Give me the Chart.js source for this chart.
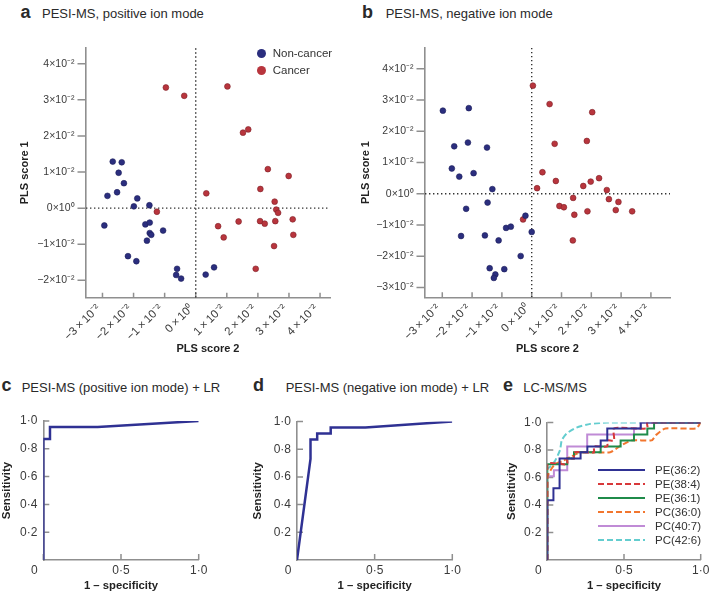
<!DOCTYPE html>
<html>
<head>
<meta charset="utf-8">
<title>PESI-MS PLS scores and ROC curves</title>
<script src="https://cdn.jsdelivr.net/npm/chart.js@4.4.1/dist/chart.umd.min.js"></script>
<style>
  html, body { margin: 0; padding: 0; background: #fff; overflow: hidden; }
  body { position: relative; width: 709px; height: 598px; font-family: "Liberation Sans", Arial, sans-serif; color: #2a2a2a; }
  canvas { position: absolute; }
  .panel { position: absolute; font-weight: bold; font-size: 18px; line-height: 18px; }
  .title { position: absolute; font-size: 13px; line-height: 13px; white-space: nowrap; }
  .key { position: absolute; font-size: 11.5px; line-height: 14px; white-space: nowrap; color: #333; }
  .dot { position: absolute; width: 9px; height: 9px; border-radius: 50%; }
  .swatch { position: absolute; height: 2px; }
</style>
</head>
<body>
<div class="panel" style="left:20.5px;top:3px">a</div>
<div class="title" style="left:42px;top:7.3px">PESI-MS, positive ion mode</div>
<div class="panel" style="left:362px;top:3px">b</div>
<div class="title" style="left:385.7px;top:7.3px">PESI-MS, negative ion mode</div>
<div class="panel" style="left:1.5px;top:376.3px">c</div>
<div class="title" style="left:21.7px;top:380.5px">PESI-MS (positive ion mode) + LR</div>
<div class="panel" style="left:253px;top:376.3px">d</div>
<div class="title" style="left:285.7px;top:380.5px">PESI-MS (negative ion mode) + LR</div>
<div class="panel" style="left:503px;top:376.3px">e</div>
<div class="title" style="left:523.3px;top:380.5px">LC-MS/MS</div>

<canvas id="posScores"></canvas>
<canvas id="negScores"></canvas>
<canvas id="posRoc"></canvas>
<canvas id="negRoc"></canvas>
<canvas id="lcRoc"></canvas>
<div id="scoreKey"></div>
<div id="lcKey"></div>

<script>
// --- DATA (PLS scores in units of 10^-2) ---
const groupNames = ['Non-cancer', 'Cancer'];

const posNonX = [-2.67, -2.38, -2.48, -2.31, -2.84, -2.53, -1.88, -1.99, -1.49, -2.94, -1.62, -1.48, -1.48, -1.43, -1.05, -1.57, -2.18, -1.91, -0.60, -0.63, -0.47, 0.32, 0.59];
const posNonY = [1.29, 1.27, 0.98, 0.69, 0.34, 0.44, 0.27, 0.05, 0.08, -0.48, -0.45, -0.40, -0.69, -0.74, -0.62, -0.90, -1.33, -1.47, -1.68, -1.85, -1.95, -1.84, -1.64];
const posCanX = [-0.96, -0.37, 1.02, 1.52, 1.69, -1.25, 0.34, 0.72, 0.90, 1.38, 2.08, 2.32, 2.07, 2.22, 2.54, 2.59, 2.65, 2.56, 2.99, 3.12, 3.14, 2.52, 1.93];
const posCanY = [3.34, 3.11, 3.37, 2.09, 2.18, -0.10, 0.41, -0.50, -0.81, -0.37, 0.53, 1.08, -0.36, -0.43, 0.18, -0.04, -0.13, -0.36, 0.89, -0.31, -0.74, -1.05, -1.68];

const negNonX = [-2.98, -2.11, -2.60, -2.14, -1.50, -2.68, -2.43, -1.95, -1.32, -1.48, -2.20, -2.37, -1.57, -1.11, -0.86, -0.70, -0.21, 0.00, -0.37, -1.41, -0.92, -1.22, -1.27];
const negNonY = [2.66, 2.74, 1.52, 1.64, 1.48, 0.81, 0.55, 0.66, 0.15, -0.28, -0.48, -1.35, -1.33, -1.49, -1.09, -1.05, -0.70, -1.22, -1.99, -2.38, -2.41, -2.58, -2.69];
const negCanX = [0.04, 0.60, 2.03, 0.77, 1.85, -0.29, 0.18, 0.36, 0.81, 0.93, 1.08, 1.39, 1.43, 1.38, 1.73, 1.98, 1.87, 2.26, 2.52, 2.59, 2.82, 2.91, 3.37];
const negCanY = [3.46, 2.87, 2.61, 1.60, 1.69, -0.82, 0.18, 0.69, 0.41, -0.39, -0.43, -0.13, -0.67, -1.49, 0.25, 0.39, -0.56, 0.50, 0.12, -0.17, -0.52, -0.26, -0.56];

// axis limits (10^-2)
const posXRange = [-3.53, 4.32], posYRange = [-2.48, 4.44];
const negXRange = [-3.58, 4.64], negYRange = [-3.31, 4.67];

// --- ROC curves (x = 1 - specificity, y = sensitivity) ---
const rocPosX = [0, 0, 0.043, 0.043, 0.35, 1];
const rocPosY = [0, 0.87, 0.87, 0.957, 0.957, 1];

const rocNegX = [0, 0.087, 0.087, 0.13, 0.13, 0.217, 0.217, 0.44, 1];
const rocNegY = [0, 0.73, 0.87, 0.87, 0.913, 0.913, 0.957, 0.957, 1];

const lcNames = ['PE(36:2)', 'PE(38:4)', 'PE(36:1)', 'PC(36:0)', 'PC(40:7)', 'PC(42:6)'];
const lcColors = ['#2f3193', '#d8383a', '#1f8b4a', '#f2762e', '#c08bd6', '#63cdcf'];
const lcDashed = [false, true, false, true, false, true];
const lcX = [
  [0, 0, 0.04, 0.04, 0.08, 0.08, 0.217, 0.217, 0.261, 0.261, 0.348, 0.348, 0.391, 0.391, 0.609, 0.609, 1],
  [0, 0, 0.13, 0.13, 0.174, 0.174, 0.304, 0.304, 0.391, 0.391, 0.435, 0.435, 0.652, 0.652, 1],
  [0, 0, 0.13, 0.13, 0.174, 0.174, 0.348, 0.348, 0.478, 0.478, 0.565, 0.565, 0.652, 0.652, 0.696, 0.696, 1],
  [0, 0, 0.02, 0.05, 0.1, 0.15, 0.22, 0.41, 0.47, 0.55, 0.68, 0.71, 0.77, 0.97, 1],
  [0, 0, 0.043, 0.043, 0.13, 0.13, 0.26, 0.26, 0.565, 0.565, 0.609, 0.609, 1],
  [0, 0, 0.02, 0.05, 0.083, 0.094, 0.126, 0.19, 0.28, 0.39, 1]
];
const lcY = [
  [0, 0.435, 0.435, 0.522, 0.522, 0.739, 0.739, 0.783, 0.783, 0.826, 0.826, 0.870, 0.870, 0.957, 0.957, 1, 1],
  [0, 0.696, 0.696, 0.739, 0.739, 0.783, 0.783, 0.826, 0.826, 0.870, 0.870, 0.957, 0.957, 1, 1],
  [0, 0.696, 0.696, 0.739, 0.739, 0.783, 0.783, 0.826, 0.826, 0.870, 0.870, 0.913, 0.913, 0.957, 0.957, 1, 1],
  [0, 0.6, 0.65, 0.696, 0.72, 0.75, 0.783, 0.783, 0.826, 0.870, 0.870, 0.91, 0.957, 0.957, 1],
  [0, 0.609, 0.609, 0.652, 0.652, 0.826, 0.826, 0.913, 0.913, 0.957, 0.957, 1, 1],
  [0, 0.66, 0.68, 0.72, 0.8, 0.87, 0.92, 0.963, 0.99, 1, 1]
];

// --- STYLE ---
const NAVY = '#2b2e7e';
const RED = '#b8353d';
const AXIS = '#8f8f8f';
const TXT = '#3a3a3a';
Chart.defaults.font.family = '"Liberation Sans", Arial, sans-serif';
Chart.defaults.color = TXT;

const zip = (xs, ys) => xs.map((x, i) => ({ x, y: ys[i] }));

// tick marks drawn at the scale's own tick values (inward or outward)
const tickMarks = {
  id: 'tickMarks',
  beforeDatasetsDraw(chart, args, o) {
    const { ctx, chartArea: a, scales: { x, y } } = chart;
    ctx.save();
    ctx.strokeStyle = AXIS;
    ctx.lineWidth = 1.5;
    ctx.beginPath();
    x.ticks.forEach(t => {
      const p = x.getPixelForValue(t.value);
      ctx.moveTo(p, a.bottom); ctx.lineTo(p, a.bottom + o.xLen);
    });
    y.ticks.forEach(t => {
      if (t.value === 0 && o.skipY0) return;
      const p = y.getPixelForValue(t.value);
      ctx.moveTo(a.left, p); ctx.lineTo(a.left - o.yLen, p);
    });
    ctx.stroke();
    ctx.restore();
  }
};

// put a canvas on the page so that the plot area lands on `area`
function setup(id, box, area) {
  const cv = document.getElementById(id);
  cv.width = box.w; cv.height = box.h;
  cv.style.left = box.l + 'px'; cv.style.top = box.t + 'px';
  return {
    ctx: cv.getContext('2d'),
    padding: { left: 0, bottom: 0, top: area.t - box.t, right: box.l + box.w - area.r },
    yWidth: area.l - box.l,
    xHeight: box.t + box.h - area.b
  };
}

const sci = v => {
  const n = Math.round(v);
  return n === 0 ? '0×10⁰' : (n < 0 ? '−' : '') + Math.abs(n) + '×10⁻²';
};
// x labels are set a little looser in the figure
const sciWide = v => sci(v).replace('×', '\u2009×\u2009');

function scoreChart(id, box, area, xr, yr, nonX, nonY, canX, canY, yTitlePad) {
  const s = setup(id, box, area);
  const zeroLine = { showLine: true, borderColor: '#333', borderWidth: 1.4, borderDash: [1.4, 2.6], pointRadius: 0, order: 5 };
  new Chart(s.ctx, {
    type: 'scatter',
    data: {
      datasets: [
        { label: groupNames[0], data: zip(nonX, nonY), backgroundColor: NAVY, borderColor: '#1d1f5a', borderWidth: 0.6, pointRadius: 2.9 },
        { label: groupNames[1], data: zip(canX, canY), backgroundColor: RED, borderColor: '#7e2026', borderWidth: 0.6, pointRadius: 2.9 },
        Object.assign({ data: [{ x: 0, y: yr[0] }, { x: 0, y: yr[1] }] }, zeroLine),
        Object.assign({ data: [{ x: xr[0], y: 0 }, { x: xr[1], y: 0 }] }, zeroLine)
      ]
    },
    options: {
      responsive: false,
      animation: false,
      layout: { padding: s.padding },
      plugins: { legend: { display: false }, tooltip: { enabled: false }, tickMarks: { xLen: -5, yLen: 8.5 } },
      scales: {
        x: {
          type: 'linear', min: xr[0], max: xr[1],
          grid: { display: false, drawTicks: false },
          border: { color: AXIS, width: 1.6 },
          ticks: { stepSize: 1, includeBounds: false, minRotation: 45, maxRotation: 45, padding: 4, labelOffset: -4,
                   font: { size: 11.5 }, callback: sciWide },
          title: { display: true, text: 'PLS score 2', color: '#222', font: { size: 11, weight: 'bold' }, padding: { top: 0, bottom: 9.4 } },
          afterFit: sc => { sc.height = s.xHeight; }
        },
        y: {
          type: 'linear', min: yr[0], max: yr[1],
          grid: { display: false, drawTicks: false },
          border: { color: AXIS, width: 1.6 },
          ticks: { stepSize: 1, includeBounds: false, padding: 11.5, font: { size: 10.5 }, callback: sci },
          title: { display: true, text: 'PLS score 1', color: '#222', font: { size: 11, weight: 'bold' }, padding: { top: yTitlePad, bottom: 0 } },
          afterFit: sc => { sc.width = s.yWidth; }
        }
      }
    },
    plugins: [tickMarks]
  });
}

function rocChart(id, box, area, sets, yTitlePad) {
  const s = setup(id, box, area);
  new Chart(s.ctx, {
    type: 'scatter',
    data: {
      datasets: sets.map(d => ({
        label: d.name, data: zip(d.x, d.y), showLine: true, borderColor: d.color, borderWidth: d.width,
        borderDash: d.dashed ? [6, 3] : [], pointRadius: 0, tension: d.dashed ? 0.2 : 0
      }))
    },
    options: {
      responsive: false,
      animation: false,
      layout: { padding: s.padding },
      plugins: { legend: { display: false }, tooltip: { enabled: false }, tickMarks: { xLen: -6, yLen: -6, skipY0: true } },
      scales: {
        x: {
          type: 'linear', min: 0, max: 1,
          grid: { display: false, drawTicks: false },
          border: { color: AXIS, width: 1.6 },
          ticks: { stepSize: 0.5, padding: 3, maxRotation: 0, font: { size: 12 },
                   callback: v => v === 0 ? '0\u2002\u2002\u2002' : v.toFixed(1).replace('.', '·') },
          title: { display: true, text: '1 – specificity', color: '#222', font: { size: 11.3, weight: 'bold' }, padding: { top: 0, bottom: 5 } },
          afterFit: sc => { sc.height = s.xHeight; }
        },
        y: {
          type: 'linear', min: 0, max: 1,
          grid: { display: false, drawTicks: false },
          border: { color: AXIS, width: 1.6 },
          ticks: { stepSize: 0.2, padding: 6, font: { size: 12 },
                   callback: v => v === 0 ? '' : v.toFixed(1).replace('.', '·') },
          title: { display: true, text: 'Sensitivity', color: '#222', font: { size: 11.5, weight: 'bold' }, padding: { top: yTitlePad, bottom: 0 } },
          afterFit: sc => { sc.width = s.yWidth; }
        }
      }
    },
    plugins: [tickMarks]
  });
}

// --- BUILD PANELS ---
scoreChart('posScores', { l: 0, t: 30, w: 345, h: 335 }, { l: 86, t: 45, r: 330, b: 297.7 },
  posXRange, posYRange, posNonX, posNonY, posCanX, posCanY, 18);
scoreChart('negScores', { l: 345, t: 30, w: 364, h: 335 }, { l: 425, t: 45, r: 670, b: 297.3 },
  negXRange, negYRange, negNonX, negNonY, negCanX, negCanY, 14);

rocChart('posRoc', { l: 0, t: 400, w: 232, h: 198 }, { l: 43.3, t: 421, r: 198.7, b: 560 },
  [{ name: 'LR', x: rocPosX, y: rocPosY, color: '#2f3193', width: 2.5, dashed: false }], 0);
rocChart('negRoc', { l: 235, t: 400, w: 235, h: 198 }, { l: 297, t: 421.5, r: 452.3, b: 560 },
  [{ name: 'LR', x: rocNegX, y: rocNegY, color: '#2f3193', width: 2.5, dashed: false }], 15.8);
rocChart('lcRoc', { l: 470, t: 400, w: 245, h: 198 }, { l: 547.3, t: 422.5, r: 700.7, b: 560 },
  lcNames.map((n, i) => ({ name: n, x: lcX[i], y: lcY[i], color: lcColors[i], width: 2, dashed: lcDashed[i] })), 34.8);

// --- LEGENDS ---
const scoreKey = document.getElementById('scoreKey');
[NAVY, RED].forEach((c, i) => {
  const cy = 53.3 + i * 16.7;
  scoreKey.insertAdjacentHTML('beforeend',
    `<div class="dot" style="left:${261 - 4.5}px;top:${cy - 4.5}px;background:${c}"></div>` +
    `<div class="key" style="left:272.7px;top:${cy - 7}px">${groupNames[i]}</div>`);
});

const lcKey = document.getElementById('lcKey');
lcNames.forEach((n, i) => {
  const cy = 469.5 + i * 14;
  const bg = lcDashed[i]
    ? `repeating-linear-gradient(90deg, ${lcColors[i]} 0 6px, transparent 6px 9px)`
    : lcColors[i];
  lcKey.insertAdjacentHTML('beforeend',
    `<div class="swatch" style="left:598px;width:47px;top:${cy - 1}px;background:${bg}"></div>` +
    `<div class="key" style="left:655px;top:${cy - 7}px">${n}</div>`);
});
</script>
</body>
</html>
